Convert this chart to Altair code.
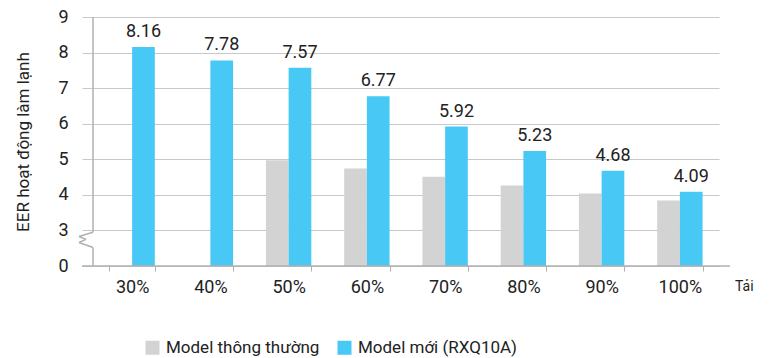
import altair as alt
import pandas as pd

categories = ["30%", "40%", "50%", "60%", "70%", "80%", "90%", "100%"]
series_names = ["Model thông thường", "Model mới (RXQ10A)"]
old_vals = [None, None, 4.97, 4.74, 4.51, 4.26, 4.04, 3.84]
new_vals = [8.16, 7.78, 7.57, 6.77, 5.92, 5.23, 4.68, 4.09]
y_ticks = [2, 3, 4, 5, 6, 7, 8, 9]  # value 2 is shown as "0" (broken axis)
colors = ["#d3d3d3", "#48c8f4"]

FONT = "Roboto, sans-serif"

rows = []
for c, o, n in zip(categories, old_vals, new_vals):
    if o is not None:
        rows.append({"cat": c, "series": series_names[0], "value": o})
    rows.append({"cat": c, "series": series_names[1], "value": n})
df = pd.DataFrame(rows)

W, H = 637, 249
ys = alt.Scale(domain=[2, 9], nice=False, zero=False)
xs = alt.Scale(domain=categories, range=[0, 626], paddingInner=0.42, paddingOuter=0.21)

x_axis = alt.Axis(labelAngle=0, labelFontSize=18, labelFont=FONT, labelColor="#222",
                  tickBand="extent", tickSize=5, tickColor="#b0b0b0", domain=False,
                  labelPadding=7, labelOverlap=False, title=None)
y_axis = alt.Axis(values=y_ticks, tickCount=8, labelExpr="datum.value == 2 ? '0' : datum.label",
                  domain=False, tickSize=11, tickColor="#c8c8c8", gridColor="#c8c8c8",
                  labelFontSize=18, labelFont=FONT, labelColor="#222", labelPadding=14,
                  labelOverlap=False, title="EER hoạt động làm lạnh",
                  titleFontSize=17, titleFont=FONT, titleFontWeight="normal",
                  titleColor="#222", titlePadding=25)

base = alt.Chart(df)

bars = base.mark_bar().encode(
    x=alt.X("cat:N", scale=xs, sort=categories, axis=x_axis),
    xOffset=alt.XOffset("series:N", sort=series_names,
                        scale=alt.Scale(domain=series_names, paddingInner=0, paddingOuter=0)),
    y=alt.Y("value:Q", scale=ys, axis=y_axis),
    y2=alt.Y2Datum(2),
    color=alt.Color("series:N", sort=series_names,
                    scale=alt.Scale(domain=series_names, range=colors),
                    legend=alt.Legend(orient="none", legendX=51, legendY=322, direction="horizontal",
                                      title=None, symbolType="square", symbolSize=196,
                                      symbolStrokeWidth=0, symbolOpacity=1, labelFontSize=17,
                                      labelFont=FONT, labelColor="#222", columnPadding=16,
                                      labelOffset=5, padding=0, labelLimit=400)),
)

labels = base.transform_filter(alt.datum.series == series_names[1]).mark_text(
    baseline="bottom", dy=-6, fontSize=18, font=FONT, color="#222"
).encode(
    x=alt.X("cat:N", scale=xs, sort=categories, axis=x_axis),
    xOffset=alt.XOffset("series:N", sort=series_names),
    y=alt.Y("value:Q", scale=ys, axis=y_axis),
    text=alt.Text("value:Q", format=".2f"),
)

one = alt.Data(values=[{"a": 1}])

bottom_line = alt.Chart(one).mark_rule(color="#b0b0b0", strokeWidth=1.5).encode(
    x=alt.value(-11), x2=alt.value(W), y=alt.YDatum(2, scale=ys, axis=y_axis)
)

# y-axis line with a break (zigzag) between 0 and 3
segments = [
    (0, 0, 9, 2.95),
    (0, -14, 2.95, 2.83),
    (-14, -7, 2.83, 2.75),
    (-7, -14, 2.75, 2.66),
    (-14, 0, 2.66, 2.52),
    (0, 0, 2.52, 2),
]
axis_layers = []
for xa, xb, ya, yb in segments:
    axis_layers.append(
        alt.Chart(one).mark_rule(color="#b0b0b0", strokeWidth=1.5).encode(
            x=alt.value(xa), x2=alt.value(xb),
            y=alt.YDatum(ya, scale=ys, axis=y_axis), y2=alt.Y2Datum(yb)
        )
    )

tai = alt.Chart(alt.Data(values=[{"t": "Tải"}])).mark_text(
    align="left", baseline="middle", fontSize=14, font=FONT, color="#222"
).encode(x=alt.value(642), y=alt.value(270), text="t:N")

chart = alt.layer(bars, labels, bottom_line, *axis_layers, tai).properties(
    width=W, height=H,
    autosize=alt.AutoSizeParams(type="none"),
    padding={"left": 85, "top": 9, "right": 31, "bottom": 92},
).configure_view(stroke=None).configure_axis(gridWidth=1)

chart.save("out.html", embed_options={"renderer": "svg", "actions": False})
